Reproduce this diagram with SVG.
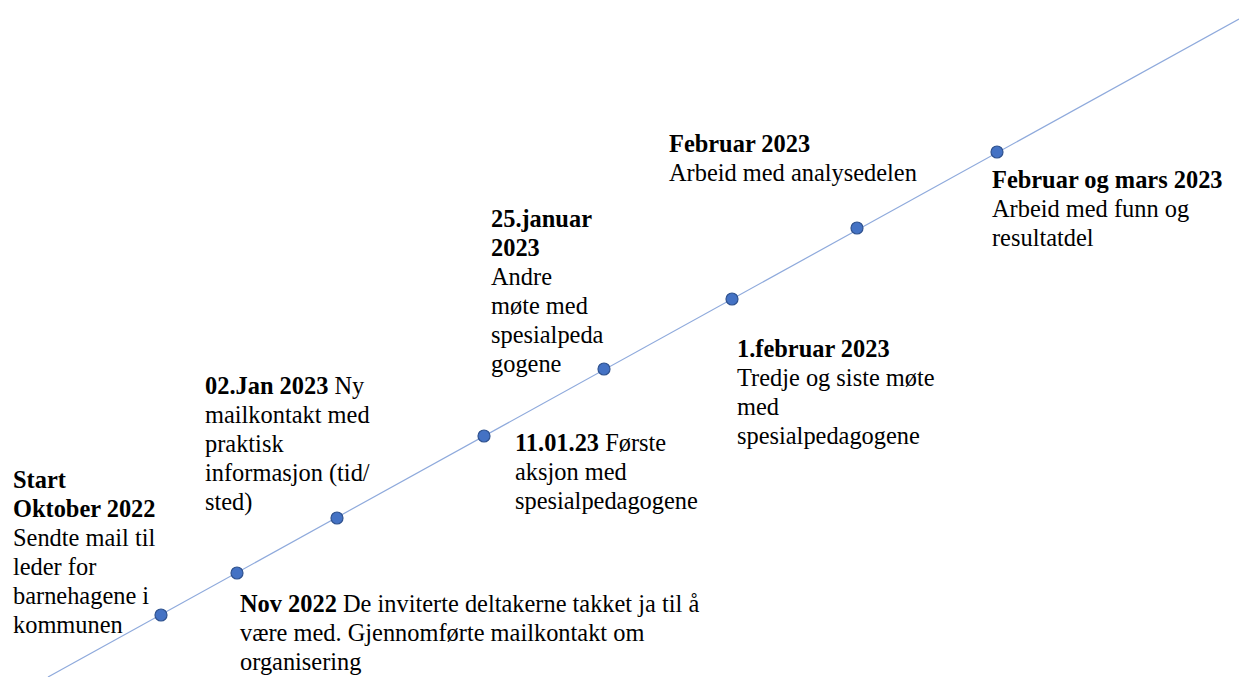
<svg xmlns="http://www.w3.org/2000/svg" width="1239" height="677" viewBox="0 0 1239 677">
<style>
text{font-family:"Liberation Serif","Times New Roman",serif;font-size:24.4px;fill:#000}
.b{font-weight:bold}
.dot{fill:#4472C4;stroke:#2F528F;stroke-width:1.2}
.ln{stroke:#8FAADC;stroke-width:1.2;fill:none}
</style>
<rect width="1239" height="677" fill="#fff"/>
<g id="connectors">
<line class="ln" x1="48" y1="677" x2="1239" y2="19"/>
</g>
<g id="n1">
<circle class="dot" cx="161" cy="615" r="6"/>
<text x="13" y="488"><tspan class="b">Start</tspan><tspan class="b" x="13" dy="29">Oktober 2022</tspan><tspan x="13" dy="29">Sendte mail til</tspan><tspan x="13" dy="29">leder for</tspan><tspan x="13" dy="29">barnehagene i</tspan><tspan x="13" dy="29">kommunen</tspan></text>
</g>
<g id="n2">
<circle class="dot" cx="237" cy="573" r="6"/>
<text x="240" y="612"><tspan class="b">Nov 2022</tspan> De inviterte deltakerne takket ja til å<tspan x="240" dy="29">være med. Gjennomførte mailkontakt om</tspan><tspan x="240" dy="29">organisering</tspan></text>
</g>
<g id="n3">
<circle class="dot" cx="337" cy="518" r="6"/>
<text x="205" y="394"><tspan class="b">02.Jan 2023</tspan> Ny<tspan x="205" dy="29">mailkontakt med</tspan><tspan x="205" dy="29">praktisk</tspan><tspan x="205" dy="29">informasjon (tid/</tspan><tspan x="205" dy="29">sted)</tspan></text>
</g>
<g id="n4">
<circle class="dot" cx="484" cy="436" r="6"/>
<text x="515" y="451"><tspan class="b">11.01.23</tspan> Første<tspan x="515" dy="29">aksjon med</tspan><tspan x="515" dy="29">spesialpedagogene</tspan></text>
</g>
<g id="n5">
<circle class="dot" cx="604" cy="369" r="6"/>
<text x="491" y="227"><tspan class="b">25.januar</tspan><tspan class="b" x="491" dy="29">2023</tspan><tspan x="491" dy="29">Andre</tspan><tspan x="491" dy="29">møte med</tspan><tspan x="491" dy="29">spesialpeda</tspan><tspan x="491" dy="29">gogene</tspan></text>
</g>
<g id="n6">
<circle class="dot" cx="732" cy="299" r="6"/>
<text x="737" y="357"><tspan class="b">1.februar 2023</tspan><tspan x="737" dy="29">Tredje og siste møte</tspan><tspan x="737" dy="29">med</tspan><tspan x="737" dy="29">spesialpedagogene</tspan></text>
</g>
<g id="n7">
<circle class="dot" cx="857" cy="228" r="6"/>
<text x="669" y="152"><tspan class="b">Februar 2023</tspan><tspan x="669" dy="29">Arbeid med analysedelen</tspan></text>
</g>
<g id="n8">
<circle class="dot" cx="997" cy="152" r="6"/>
<text x="992" y="188"><tspan class="b">Februar og mars 2023</tspan><tspan x="992" dy="29">Arbeid med funn og</tspan><tspan x="992" dy="29">resultatdel</tspan></text>
</g>
</svg>
